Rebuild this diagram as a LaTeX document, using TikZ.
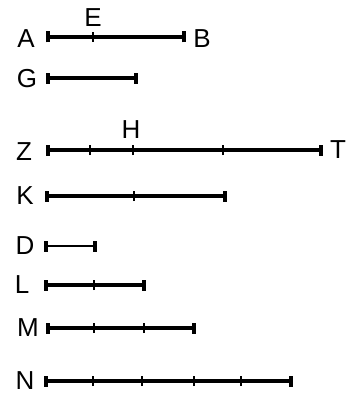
\documentclass[tikz,border=0pt]{standalone}
\usepackage{fontspec}
\setmainfont{Liberation Sans}
\begin{document}
\begin{tikzpicture}[x=1pt,y=-1pt,
  seg/.style={line width=3.2pt},
  thinseg/.style={line width=1.6pt},
  endtick/.style={line width=3.4pt},
  midtick/.style={line width=2.2pt},
  lbl/.style={font=\fontsize{26}{26}\selectfont, inner sep=0pt}]
\useasboundingbox (0,0) rectangle (348,396);
% A--B
\coordinate (a0) at (48,37); \coordinate (a1) at (93,37); \coordinate (a2) at (184,37);
\draw[seg] (a0) -- (a2);
\node[lbl] (A) at (26,39) {A};
\node[lbl] (B) at (202,39) {B};
\node[lbl] (E) at (93,18) {E};
% G
\coordinate (g0) at (48,78); \coordinate (g1) at (136,78);
\draw[seg] (g0) -- (g1);
\node[lbl] (G) at (27,79) {G};
% Z--T
\coordinate (z0) at (48,150); \coordinate (z1) at (90,150); \coordinate (z2) at (133,150);
\coordinate (z3) at (223,150); \coordinate (z4) at (321,150);
\draw[seg] (z0) -- (z4);
\node[lbl] (Z) at (24,152) {Z};
\node[lbl] (T) at (338,150) {T};
\node[lbl] (H) at (131,130) {H};
% K
\coordinate (k0) at (47,196); \coordinate (k1) at (134,196); \coordinate (k2) at (225,196);
\draw[seg] (k0) -- (k2);
\node[lbl] (K) at (25,196) {K};
% D
\coordinate (d0) at (46,246); \coordinate (d1) at (95,246);
\draw[thinseg] (d0) -- (d1);
\node[lbl] (D) at (25,246) {D};
% L
\coordinate (l0) at (46,285); \coordinate (l1) at (94,285); \coordinate (l2) at (144,285);
\draw[seg] (l0) -- (l2);
\node[lbl] (L) at (22,285) {L};
% M
\coordinate (m0) at (48,328); \coordinate (m1) at (94,328); \coordinate (m2) at (144,328); \coordinate (m3) at (194,328);
\draw[seg] (m0) -- (m3);
\node[lbl] (M) at (28,328) {M};
% N
\coordinate (n0) at (46,381); \coordinate (n1) at (93,381); \coordinate (n2) at (142,381);
\coordinate (n3) at (194,381); \coordinate (n4) at (241,381); \coordinate (n5) at (291,381);
\draw[seg] (n0) -- (n5);
\node[lbl] (N) at (25,381) {N};
% end ticks
\foreach \p in {a0,a2,g0,g1,z0,z4,k0,k2,d0,d1,l0,l2,m0,m3,n0,n5}
  \draw[endtick] ([yshift=-5.5pt]\p) -- ([yshift=5.5pt]\p);
% middle ticks
\foreach \p in {a1,z1,z2,z3,k1,l1,m1,m2,n1,n2,n3,n4}
  \draw[midtick] ([yshift=-5pt]\p) -- ([yshift=5pt]\p);
\end{tikzpicture}
\end{document}
